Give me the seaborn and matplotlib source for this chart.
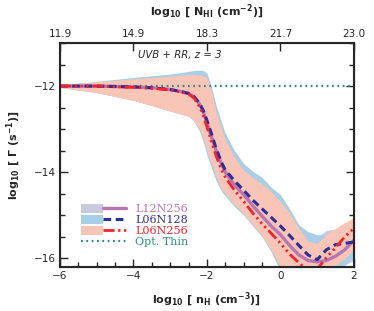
import matplotlib
matplotlib.use("Agg")
import matplotlib.pyplot as plt
import seaborn as sns
from matplotlib.patches import Patch
from matplotlib.lines import Line2D
from matplotlib.legend_handler import HandlerTuple

# ------------------------------------
# DATA
# ------------------------------------

nh = [-6, -5, -4, -3.5, -3, -2.75, -2.5, -2.35, -2.2, -2.1, -2.0, -1.9, -1.75,
      -1.6, -1.5, -1.25, -1.0, -0.75, -0.5, -0.25, 0, 0.25, 0.5, 0.75, 1.0,
      1.25, 1.5, 1.75, 2.0]

gamma_l12n256 = [-12.0, -12.0, -12.02, -12.04, -12.08, -12.12, -12.17, -12.25,
                 -12.42, -12.6, -12.85, -13.12, -13.5, -13.82, -14.0, -14.3,
                 -14.52, -14.78, -15.02, -15.25, -15.45, -15.7, -15.92, -16.05,
                 -16.08, -16.05, -15.95, -15.8, -15.58]

gamma_l06n128 = [-12.0, -12.0, -12.02, -12.04, -12.08, -12.12, -12.17, -12.25,
                 -12.4, -12.57, -12.8, -13.05, -13.45, -13.78, -13.95, -14.2,
                 -14.42, -14.65, -14.85, -15.05, -15.25, -15.47, -15.7, -15.92,
                 -16.03, -15.8, -15.68, -15.65, -15.62]

gamma_l06n256 = [-12.0, -12.0, -12.03, -12.05, -12.09, -12.13, -12.18, -12.28,
                 -12.48, -12.68, -12.95, -13.22, -13.62, -13.95, -14.12, -14.42,
                 -14.68, -14.95, -15.2, -15.42, -15.65, -15.9, -16.1, -16.3,
                 -16.25, -15.98, -15.75, -15.5, -15.3]

# scatter bands
l06n256_hi = [-11.97, -11.9, -11.83, -11.8, -11.77, -11.75, -11.73, -11.73,
              -11.74, -11.76, -11.8, -12.05, -12.6, -13.0, -13.25, -13.65,
              -13.95, -14.12, -14.27, -14.45, -14.68, -14.95, -15.3, -15.6,
              -15.65, -15.45, -15.3, -15.17, -15.05]
l06n256_lo = [-12.03, -12.15, -12.33, -12.45, -12.58, -12.64, -12.7, -12.8,
              -13.0, -13.2, -13.5, -13.75, -14.1, -14.4, -14.5, -14.75,
              -14.97, -15.22, -15.48, -15.8, -16.2, -16.5, -16.5, -16.5,
              -16.45, -16.3, -16.15, -16.0, -15.8]

l06n128_hi = [-11.97, -11.89, -11.8, -11.76, -11.72, -11.69, -11.66, -11.64,
              -11.63, -11.64, -11.7, -11.95, -12.45, -12.85, -13.1, -13.5,
              -13.8, -13.98, -14.12, -14.35, -14.52, -14.85, -15.22, -15.38,
              -15.45, -15.45, -15.43, -15.42, -15.4]
l06n128_lo = [-12.03, -12.15, -12.33, -12.45, -12.58, -12.64, -12.7, -12.82,
              -13.05, -13.3, -13.6, -13.85, -14.2, -14.45, -14.55, -14.8,
              -15.0, -15.25, -15.5, -15.85, -16.3, -16.5, -16.5, -16.5,
              -16.5, -16.45, -16.3, -16.15, -15.97]

l12n256_hi = [-11.97, -11.91, -11.84, -11.81, -11.78, -11.76, -11.74, -11.74,
              -11.75, -11.77, -11.82, -12.08, -12.62, -13.02, -13.27, -13.67,
              -13.97, -14.15, -14.3, -14.48, -14.7, -14.97, -15.3, -15.5,
              -15.5, -15.35, -15.32, -15.3, -15.3]
l12n256_lo = [-12.03, -12.15, -12.33, -12.45, -12.58, -12.64, -12.7, -12.8,
              -13.0, -13.2, -13.5, -13.75, -14.1, -14.4, -14.5, -14.75,
              -14.97, -15.22, -15.48, -15.8, -16.2, -16.5, -16.5, -16.5,
              -16.45, -16.35, -16.25, -16.15, -16.05]

opt_thin = -12.0

top_ticks = [-6, -4, -2, 0, 2]
top_labels = ["11.9", "14.9", "18.3", "21.7", "23.0"]

labels = ["L12N256", "L06N128", "L06N256", "Opt. Thin"]

# ------------------------------------
# STYLE
# ------------------------------------

sns.set_style("ticks")
plt.rcParams["font.family"] = ["DejaVu Sans"]
plt.rcParams["mathtext.default"] = "regular"

c_purple = "#b877b0"
c_blue = "#2e2e98"
c_red = "#f8222a"
c_teal = "#2e8f7e"
c_lav = "#cbcbe0"
c_lblue = "#a9cfe6"
c_pink = "#f9c5b6"

ls_red = (0, (4, 1.3, 0.8, 1.3, 0.8, 1.3, 0.8, 1.3))
ls_blue = (0, (2.5, 1.5))
ls_teal = (0, (0.8, 1.6))

# ------------------------------------
# PLOT
# ------------------------------------

fig = plt.figure(figsize=(3.74, 3.11), dpi=100)
ax = fig.add_axes([0.1604, 0.1415, 0.786, 0.7202])

ax.fill_between(nh, l12n256_lo, l12n256_hi, color=c_lav, lw=0)
ax.fill_between(nh, l06n128_lo, l06n128_hi, color=c_lblue, lw=0)
ax.fill_between(nh, l06n256_lo, l06n256_hi, color=c_pink, lw=0)

ax.axhline(opt_thin, color=c_teal, lw=1.6, linestyle=ls_teal)

sns.lineplot(x=nh, y=gamma_l12n256, ax=ax, color=c_purple, lw=2.4,
             sort=False, estimator=None, legend=False)
sns.lineplot(x=nh, y=gamma_l06n128, ax=ax, color=c_blue, lw=2.2,
             linestyle=ls_blue, sort=False, estimator=None, legend=False)
sns.lineplot(x=nh, y=gamma_l06n256, ax=ax, color=c_red, lw=2.0,
             linestyle=ls_red, sort=False, estimator=None, legend=False)

ax.set_xlim(-6, 2)
ax.set_ylim(-16.2, -11.0)
ax.set_xticks([-6, -4, -2, 0, 2])
ax.set_xticks([i * 0.5 - 6 for i in range(17)], minor=True)
ax.set_yticks([-16, -14, -12])
ax.set_yticks([-16 + i * 0.5 for i in range(11)], minor=True)
ax.set_yticklabels(["\u221216", "\u221214", "\u221212"])
ax.set_xticklabels(["\u22126", "\u22124", "\u22122", "0", "2"])

ax.tick_params(which="both", direction="in", right=True, top=False,
               labelsize=7.5, width=1.0, pad=3)
ax.tick_params(which="major", length=6)
ax.tick_params(which="minor", length=3.5)
for s in ax.spines.values():
    s.set_linewidth(1.5)

ax.set_xlabel("log$_{10}$ [ n$_{H}$ (cm$^{-3}$)]", fontsize=8,
              fontweight="bold", labelpad=7)
ax.set_ylabel("log$_{10}$ [ $\\Gamma$ (s$^{-1}$)]", fontsize=8,
              fontweight="bold", labelpad=8)

# top axis: column density
ax2 = ax.twiny()
ax2.set_xlim(ax.get_xlim())
ax2.set_xticks(top_ticks)
ax2.set_xticklabels(top_labels)
ax2.tick_params(direction="in", length=6, width=1.0, labelsize=7.5, pad=3)
ax2.set_xlabel("log$_{10}$ [ N$_{HI}$ (cm$^{-2}$)]", fontsize=8,
               fontweight="bold", labelpad=10)

ax.text(-2.73, -11.27, "UVB + RR, z = 3", fontsize=7.3, style="italic",
        ha="center", va="center")

# ------------------------------------
# LEGEND
# ------------------------------------

handles = [
    (Patch(facecolor=c_lav, lw=0), Line2D([], [], color=c_purple, lw=2.4)),
    (Patch(facecolor=c_lblue, lw=0), Line2D([], [], color=c_blue, lw=2.2, linestyle=ls_blue)),
    (Patch(facecolor=c_pink, lw=0), Line2D([], [], color=c_red, lw=2.0, linestyle=ls_red)),
    (Line2D([], [], color=c_teal, lw=1.6, linestyle=ls_teal),),
]

leg = ax.legend(handles, labels, handler_map={tuple: HandlerTuple(ndivide=None, pad=0)},
                loc="lower left", bbox_to_anchor=(0.055, 0.07), frameon=False,
                prop={"family": "DejaVu Serif", "size": 8},
                handlelength=4.05, handleheight=0.85, labelspacing=0.05,
                handletextpad=0.85, borderaxespad=0)
for txt, col in zip(leg.get_texts(), [c_purple, c_blue, c_red, c_teal]):
    txt.set_color(col)

plt.savefig("out.png", dpi=100)
plt.close()
